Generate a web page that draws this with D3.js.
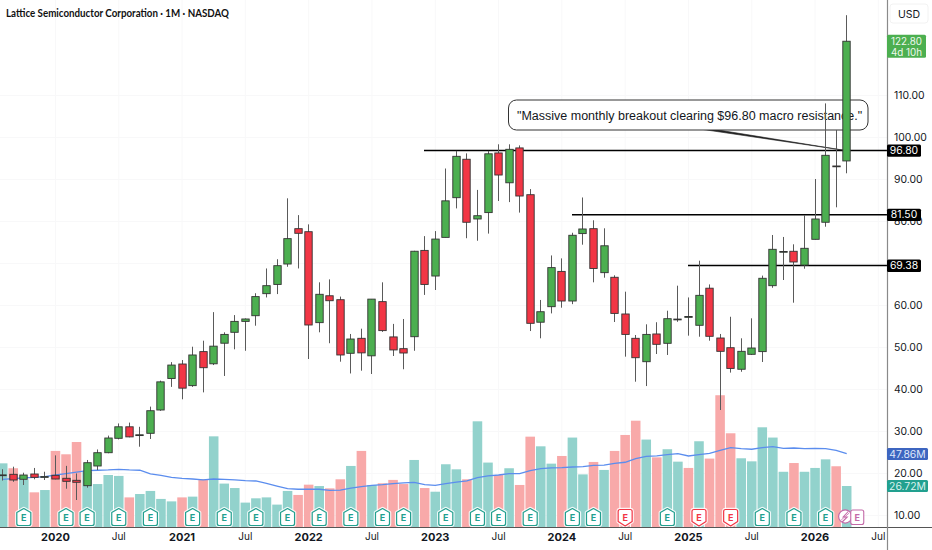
<!DOCTYPE html>
<html>
<head>
<meta charset="utf-8">
<script src="https://cdn.jsdelivr.net/npm/d3@7/dist/d3.min.js"></script>
<style>
html,body{margin:0;padding:0;background:#fff;overflow:hidden}
svg{display:block;font-family:"Inter","Liberation Sans",sans-serif}
</style>
</head>
<body>
<svg id="c" width="932" height="550"></svg>
<script>
// ---------- DATA ----------
const months = ["2019-08","2019-09","2019-10","2019-11","2019-12",
"2020-01","2020-02","2020-03","2020-04","2020-05","2020-06","2020-07","2020-08","2020-09","2020-10","2020-11","2020-12",
"2021-01","2021-02","2021-03","2021-04","2021-05","2021-06","2021-07","2021-08","2021-09","2021-10","2021-11","2021-12",
"2022-01","2022-02","2022-03","2022-04","2022-05","2022-06","2022-07","2022-08","2022-09","2022-10","2022-11","2022-12",
"2023-01","2023-02","2023-03","2023-04","2023-05","2023-06","2023-07","2023-08","2023-09","2023-10","2023-11","2023-12",
"2024-01","2024-02","2024-03","2024-04","2024-05","2024-06","2024-07","2024-08","2024-09","2024-10","2024-11","2024-12",
"2025-01","2025-02","2025-03","2025-04","2025-05","2025-06","2025-07","2025-08","2025-09","2025-10","2025-11","2025-12",
"2026-01","2026-02","2026-03","2026-04"];
const futureMonths = ["2026-05","2026-06","2026-07"];

const opens = [19.45,19.69,18.5,19.76,19.08,19.45,18.74,18.26,16.98,21.67,24.83,28.26,31.0,29.0,29.45,35.0,42.5,
45.95,40.8,48.9,46.0,50.9,53.5,56.1,57.45,62.7,64.9,69.76,78.17,
77.45,55.8,62.2,61.26,48.5,52.07,47.9,60.8,52.4,49.6,52.45,73.0,
66.9,76.1,85.55,94.7,80.48,82.0,96.2,89.1,97.4,86.26,55.9,59.6,
68.0,60.95,77.0,78.17,67.7,66.6,57.86,52.07,46.5,53.1,50.88,56.55,
57.15,55.17,64.0,52.14,49.83,44.7,48.26,48.9,64.6,72.65,72.79,69.5,
75.64,79.7,93.1,94.3];
const closes = [19.55,18.33,19.52,18.97,19.15,18.57,18.02,17.79,22.45,24.83,28.33,31.0,28.6,29.1,34.83,41.7,45.7,
40.2,48.1,45.07,50.2,53.0,56.1,56.67,62.0,64.6,69.36,75.8,77.07,
55.24,62.55,61.02,48.1,51.9,48.6,61.4,53.9,49.3,48.57,72.8,64.9,
75.7,84.8,95.4,79.7,81.26,96.0,90.95,97.07,85.95,55.64,58.4,68.9,
60.95,76.6,78.1,68.7,74.1,58.0,53.0,47.45,53.0,50.64,56.74,56.65,
57.25,62.3,52.55,48.97,44.9,48.97,49.76,66.36,73.26,72.75,70.24,73.5,
80.48,95.64,92.95,122.8];
const highs = [20.9,21.5,20.07,21.2,20.3,24.2,21.7,19.9,23.1,25.6,28.9,31.8,32.0,31.0,35.8,42.0,46.4,
46.9,50.07,51.5,58.3,53.5,57.6,56.8,62.8,68.7,70.9,85.4,81.4,
79.2,65.4,66.1,62.0,53.1,54.36,61.4,65.4,55.5,56.67,72.9,76.4,
77.6,92.5,96.7,96.1,87.4,96.7,98.26,98.26,98.0,87.6,61.2,71.8,
71.1,77.2,85.6,80.17,78.26,67.07,63.17,52.86,55.4,55.9,58.64,64.6,
61.8,70.55,64.9,53.1,57.2,52.07,56.83,67.0,76.67,76.2,74.45,81.4,
90.0,108.0,101.67,129.0];
const lows = [18.2,17.9,17.14,18.5,18.33,18.5,16.26,13.57,16.5,20.7,24.7,28.0,28.5,26.26,28.1,34.8,40.5,
37.55,40.5,39.2,45.7,43.1,49.45,49.1,55.07,61.8,62.6,69.1,68.7,
47.14,53.5,50.9,46.5,43.7,44.36,43.57,53.6,47.86,44.7,49.1,62.4,
63.57,76.1,83.0,75.9,75.3,77.0,84.76,84.5,82.0,53.8,52.07,58.0,
59.36,60.2,74.36,65.4,66.5,55.95,47.7,41.74,40.7,48.33,48.1,56.0,
52.7,52.45,51.5,35.0,43.9,44.1,48.1,46.43,64.1,65.95,60.55,68.64,
75.6,78.64,83.26,91.36];
const volumes = [41.5,38.3,31,22.6,24.1,49.6,47.4,55.4,36,28,33.9,33.3,19.3,21.5,23.5,18.3,16.7,
19.3,19.8,31.1,59.1,28.3,25.4,15.9,18.7,19.3,14.6,23.5,20.9,
27.6,26.7,25.2,31.1,39.8,49.6,27.4,28.5,30.7,28,43.7,25.4,
23,40.9,37.6,31.1,68.9,42,33.9,38.3,27.4,58.9,52.6,41.3,
46.3,58.3,34.3,42.4,37.2,49.6,60,69.3,57,45.4,50.7,42.6,
38.5,55.9,44.6,85.9,61.1,44.8,42.8,65,58.3,36,41.7,36,
38.5,44.1,39.6,26.72];
const volumeUp = [1,0,1,0,1,0,0,0,1,1,1,1,0,1,1,1,1,
0,1,0,1,1,1,1,1,1,1,1,0,
0,1,0,0,1,0,1,0,0,0,1,0,
1,1,1,0,1,1,0,1,0,0,1,1,
0,1,1,0,1,0,0,0,1,0,1,1,
0,1,0,0,0,1,1,1,1,1,0,1,
1,1,0,1];
const volumeMA = [31,31.5,32,32.3,32.8,33.9,34.8,35.8,36.7,37,37.2,37.6,37.2,37,34.6,33.7,32.4,
31.7,31.3,30.7,31.3,31,30.7,30.2,30,28.5,26.7,25,24.6,
24.6,24.6,23.9,24.1,25.4,26.3,27.2,27.6,28.3,28.7,29.1,27.6,
27.2,28.3,29.3,30,32.2,33.3,33.9,34.8,34.8,36.7,38,38.5,
38.7,39.1,39.3,40.2,40.4,41.5,42.2,44.6,46.1,46.3,47.2,47.8,
46.3,47.2,48,50,51.7,51.1,50.7,51.7,52.4,51.3,51.5,51.1,
51.3,51.1,50,47.86];

const priceTicks = [10,20,30,40,50,60,70,80,90,100,110];
const priceLabelTicks = [10,20,30,40,50,60,80,90,100,110];
const timeTicks = [["2020-01","2020",1],["2020-07","Jul",0],["2021-01","2021",1],["2021-07","Jul",0],["2022-01","2022",1],["2022-07","Jul",0],["2023-01","2023",1],["2023-07","Jul",0],["2024-01","2024",1],["2024-07","Jul",0],["2025-01","2025",1],["2025-07","Jul",0],["2026-01","2026",1],["2026-07","Jul",0]];

const earningsGood = ["2019-10","2020-02","2020-04","2020-07","2020-10","2021-02","2021-05","2021-08","2021-11","2022-02","2022-05","2022-08","2022-10","2023-02","2023-05","2023-07","2023-10","2024-02","2024-04","2024-11","2025-08","2025-11","2026-02"];
const earningsBad = ["2024-07","2025-02","2025-05"];
const earningsNext = ["2026-05"];
const dividendLike = ["2026-04"];

const levels = [{p:96.80,label:"96.80"},{p:81.50,label:"81.50"},{p:69.38,label:"69.38"}];
const levelStartX = [424,572,688];
const titleText = "Lattice Semiconductor Corporation · 1M · NASDAQ";
const calloutText = "\"Massive monthly breakout clearing $96.80 macro resistance.\"";
const lastPrice = 122.80, lastCountdown = "4d 10h", currency = "USD";
const maLabel = "47.86M", volLabel = "26.72M";

// ---------- SCALES ----------
const W = 932, H = 550, plotR = 887, axisY = 527;
const step = 10.55;
const allMonths = months.concat(futureMonths);
const x = d3.scaleBand().domain(allMonths).range([2.7 - step/2, 2.7 - step/2 + step*allMonths.length]).padding(0);
const cx = m => x(m) + x.bandwidth()/2;
const y = d3.scaleLinear().domain([10,110]).range([515,95]);
const v = d3.scaleLinear().domain([0,100]).range([axisY, axisY - 153.4]);

const svg = d3.select("#c");
const UP="#4CAF50", DOWN="#F23645", VUP="#92D2CC", VDOWN="#F8A9A9";

// grid
const grid = svg.append("g").attr("stroke","#f8f8f9").attr("stroke-width",1);
priceTicks.forEach(t=>grid.append("line").attr("x1",0).attr("x2",plotR).attr("y1",y(t)+.5).attr("y2",y(t)+.5));
timeTicks.forEach(t=>grid.append("line").attr("x1",cx(t[0])).attr("x2",cx(t[0])).attr("y1",0).attr("y2",axisY));

// volume
svg.append("g").selectAll("rect").data(months).join("rect")
  .attr("x",m=>x(m)+.5).attr("width",step-1)
  .attr("y",(m,i)=>v(volumes[i])).attr("height",(m,i)=>axisY-v(volumes[i]))
  .attr("fill",(m,i)=>volumeUp[i]?VUP:VDOWN);

// volume MA
svg.append("path").datum(months)
  .attr("fill","none").attr("stroke","#5b8dee").attr("stroke-width",1.3)
  .attr("d",d3.line().x(m=>cx(m)).y((m,i)=>v(volumeMA[i])));

// earnings markers
function halo(g,d){g.append("path").attr("d",d).attr("fill","none").attr("stroke","#fff").attr("stroke-width",3.5).attr("stroke-linejoin","round").attr("stroke-opacity",.85);}
earningsGood.forEach(m=>{
  const c=cx(m),g=svg.append("g");
  const d=`M${c},508.5L${c+7},512.5V523.5Q${c+7},525.5 ${c+5},525.5H${c-5}Q${c-7},525.5 ${c-7},523.5V512.5Z`;
  halo(g,d);
  g.append("path").attr("d",d).attr("fill","#fff").attr("stroke","#22a08f").attr("stroke-width",1.2).attr("stroke-linejoin","round");
  g.append("text").attr("x",c).attr("y",521).attr("text-anchor","middle").attr("font-size",9).attr("font-weight",700).attr("fill","#22a08f").text("E");
});
earningsBad.forEach(m=>{
  const c=cx(m),g=svg.append("g");
  const d=`M${c-5},509.5H${c+5}Q${c+7},509.5 ${c+7},511.5V521.5L${c},526L${c-7},521.5V511.5Q${c-7},509.5 ${c-5},509.5Z`;
  halo(g,d);
  g.append("path").attr("d",d).attr("fill","#fff").attr("stroke","#f23645").attr("stroke-width",1.2).attr("stroke-linejoin","round");
  g.append("text").attr("x",c).attr("y",521).attr("text-anchor","middle").attr("font-size",9).attr("font-weight",700).attr("fill","#f23645").text("E");
});
dividendLike.forEach(m=>{
  const c=cx(m)-1.5,g=svg.append("g");
  g.append("circle").attr("cx",c).attr("cy",516.5).attr("r",6.6).attr("fill","#fff").attr("stroke","#c46aa8").attr("stroke-width",1.2);
  g.append("path").attr("d",`M${c+3},511.5L${c-2},517H${c+2}L${c-3},522`).attr("fill","none").attr("stroke","#c46aa8").attr("stroke-width",1.1);
  g.append("line").attr("x1",c-4).attr("x2",c+4).attr("y1",520).attr("y2",513).attr("stroke","#c46aa8").attr("stroke-width",.8);
});
earningsNext.forEach(m=>{
  const c=cx(m),g=svg.append("g");
  g.append("rect").attr("x",c-6.5).attr("y",510).attr("width",13).attr("height",14.5).attr("rx",2).attr("fill","#fff").attr("stroke","#c46aa8").attr("stroke-width",1.1);
  g.append("text").attr("x",c).attr("y",521).attr("text-anchor","middle").attr("font-size",9).attr("font-weight",700).attr("fill","#c46aa8").text("E");
});

// horizontal levels
levels.forEach((l,i)=>{
  svg.append("line").attr("x1",levelStartX[i]).attr("x2",plotR).attr("y1",y(l.p)).attr("y2",y(l.p)).attr("stroke","#000").attr("stroke-width",1.5);
});

// callout
const callout = svg.append("g");
callout.append("path").attr("d","M693,128L706,128L846,150.6Z").attr("fill","#222").attr("stroke","#222").attr("stroke-width",.6);
callout.append("rect").attr("x",508.5).attr("y",100).attr("width",359.5).attr("height",30).attr("rx",8).attr("fill","#fff").attr("stroke","#333").attr("stroke-width",1);
callout.append("text").attr("x",517).attr("y",120).attr("font-size",12.5).attr("fill","#131722").style("font-family","'Liberation Sans'").text(calloutText);

// candles
const gc = svg.append("g");
months.forEach((m,i)=>{
  const c=Math.round(cx(m)-.5)+.5, col=closes[i]>=opens[i]?UP:DOWN;
  gc.append("line").attr("x1",c).attr("x2",c).attr("y1",y(highs[i])).attr("y2",y(lows[i])).attr("stroke","#5a5a5a").attr("stroke-width",1);
  const top=Math.min(y(opens[i]),y(closes[i])), h=Math.abs(y(opens[i])-y(closes[i]));
  gc.append("rect").attr("x",c-3.7).attr("width",7.4).attr("y",top).attr("height",Math.max(h,.8)).attr("fill",col).attr("stroke","#333").attr("stroke-width",.9);
});

// axis frame
svg.append("line").attr("x1",0).attr("x2",W).attr("y1",axisY+.5).attr("y2",axisY+.5).attr("stroke","#555").attr("stroke-width",1);
svg.append("line").attr("x1",plotR+.5).attr("x2",plotR+.5).attr("y1",0).attr("y2",H).attr("stroke","#8a8a8a").attr("stroke-width",1.2);

// right axis
const ya = svg.append("g").attr("transform",`translate(${plotR},0)`).call(d3.axisRight(y).tickValues(priceLabelTicks).tickSize(0).tickFormat(d3.format(".2f"))).attr("font-family",null).attr("font-size",null);
ya.select(".domain").remove();
ya.selectAll("text").attr("x",7).attr("font-size",10.4).attr("fill","#131722").attr("dy","0.34em");

// bottom axis
const labels = new Map(timeTicks.map(t=>[t[0],t]));
const xa = svg.append("g").attr("transform",`translate(0,${axisY})`).call(d3.axisBottom(x).tickValues(timeTicks.map(t=>t[0])).tickSize(0).tickFormat(m=>labels.get(m)[1])).attr("font-family",null).attr("font-size",null);
xa.select(".domain").remove();
xa.selectAll("text").attr("y",6).attr("dy","0.71em").attr("font-size",m=>labels.get(m)[2]?11:10).attr("font-weight",m=>labels.get(m)[2]?700:400).attr("fill","#131722");

// tags
function tag(yy,h,w,bg,lines,fg){
  svg.append("rect").attr("x",plotR).attr("y",yy).attr("width",w).attr("height",h).attr("rx",1.5).attr("fill",bg);
  lines.forEach((t,i)=>svg.append("text").attr("x",plotR+w/2).attr("y",yy+ (lines.length>1?9.9+i*11:9.6)).attr("text-anchor","middle").attr("font-size",lines.length>1?9.8:10.4).attr("fill",fg||"#fff").text(t));
}
levels.forEach(l=>tag(y(l.p)-6,12.4,34,"#000",[l.label]));
tag(y(lastPrice)-6.5,23,39,"#4CAF50",[d3.format(".2f")(lastPrice),lastCountdown],"#eef8ee");
tag(v(47.86)-5.6,12,41,"#3d65c0",[maLabel],"#dfe7fa");
tag(v(26.72)-6,12,41,"#22a08f",[volLabel],"#d9f2ee");

// currency button
svg.append("rect").attr("x",890).attr("y",4).attr("width",38).attr("height",19).attr("rx",3).attr("fill","#fff").attr("stroke","#f2f2f2");
svg.append("text").attr("x",909).attr("y",17.5).attr("text-anchor","middle").attr("font-size",10.5).attr("fill","#131722").text(currency);

// title
svg.append("text").attr("x",6).attr("y",17).style("font-family","Lato").attr("font-weight",700).attr("font-size",11.4)
  .attr("textLength",223).attr("lengthAdjust","spacingAndGlyphs").attr("fill","#111").text(titleText);
</script>
</body>
</html>
